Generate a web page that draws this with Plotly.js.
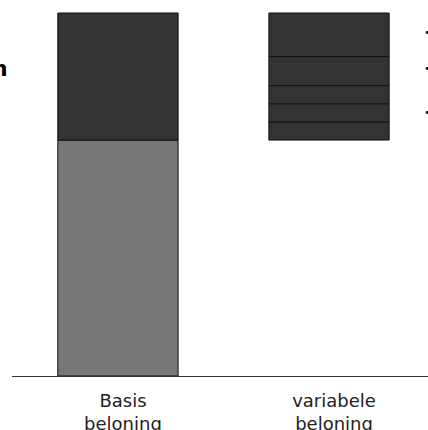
<!DOCTYPE html>
<html>
<head>
<meta charset="utf-8">
<script src="https://cdn.plot.ly/plotly-3.0.1.min.js"></script>
<style>
html,body{margin:0;padding:0;overflow:hidden;background:#fff;}
#chart{width:428px;height:430px;}
</style>
</head>
<body>
<div id="chart"></div>
<script>
// Data
var categories = ['Basis<br>beloning', 'variabele<br>beloning'];
var basisFixed = 65;          // gray lower block of "Basis beloning"
var basisTop = 35;            // dark upper block of "Basis beloning"
var variabeleParts = [5, 5, 5, 8, 12];  // stacked dark segments of "variabele beloning"

var darkColor = '#333333';
var grayColor = '#777777';
var edge = {color: '#111111', width: 1};
var barW = 0.57;

var traces = [];
traces.push({
  type: 'bar', x: [categories[0]], y: [basisFixed], base: [0],
  marker: {color: grayColor, line: edge}, width: barW, hoverinfo: 'none', showlegend: false
});
traces.push({
  type: 'bar', x: [categories[0]], y: [basisTop], base: [basisFixed],
  marker: {color: darkColor, line: edge}, width: barW, hoverinfo: 'none', showlegend: false
});
var cum = basisFixed;
variabeleParts.forEach(function (v) {
  traces.push({
    type: 'bar', x: [categories[1]], y: [v], base: [cum],
    marker: {color: darkColor, line: edge}, width: barW, hoverinfo: 'none', showlegend: false
  });
  cum += v;
});

var layout = {
  width: 428, height: 430,
  margin: {l: 12, r: 0, t: 9, b: 54, pad: 0},
  paper_bgcolor: '#ffffff', plot_bgcolor: '#ffffff',
  barmode: 'overlay',
  showlegend: false,
  font: {family: 'DejaVu Sans', color: '#222222'},
  xaxis: {
    type: 'category',
    range: [-0.502, 1.469],
    showline: true, linecolor: '#333333', linewidth: 1,
    showgrid: false, zeroline: false, ticks: '',
    ticklabelstandoff: 8, ticklabelshift: 5,
    tickfont: {family: 'DejaVu Sans', size: 18, color: '#222222'}
  },
  yaxis: {
    range: [0, 101.1], visible: false, showgrid: false, zeroline: false
  },
  annotations: [
    {xref: 'paper', yref: 'paper', x: -2/416, y: (376-68)/367, xanchor: 'right', yanchor: 'middle',
     text: '<b>n</b>', showarrow: false, font: {family: 'DejaVu Sans', size: 22, color: '#000000'}},
    {xref: 'paper', yref: 'paper', x: 410/416, y: (376-33)/367, xanchor: 'left', yanchor: 'middle',
     text: '•', showarrow: false, font: {family: 'DejaVu Sans', size: 11, color: '#000000'}},
    {xref: 'paper', yref: 'paper', x: 410/416, y: (376-68)/367, xanchor: 'left', yanchor: 'middle',
     text: '•', showarrow: false, font: {family: 'DejaVu Sans', size: 11, color: '#000000'}},
    {xref: 'paper', yref: 'paper', x: 410/416, y: (376-112)/367, xanchor: 'left', yanchor: 'middle',
     text: '•', showarrow: false, font: {family: 'DejaVu Sans', size: 11, color: '#000000'}}
  ]
};

Plotly.newPlot('chart', traces, layout, {displayModeBar: false, staticPlot: true});
</script>
</body>
</html>
